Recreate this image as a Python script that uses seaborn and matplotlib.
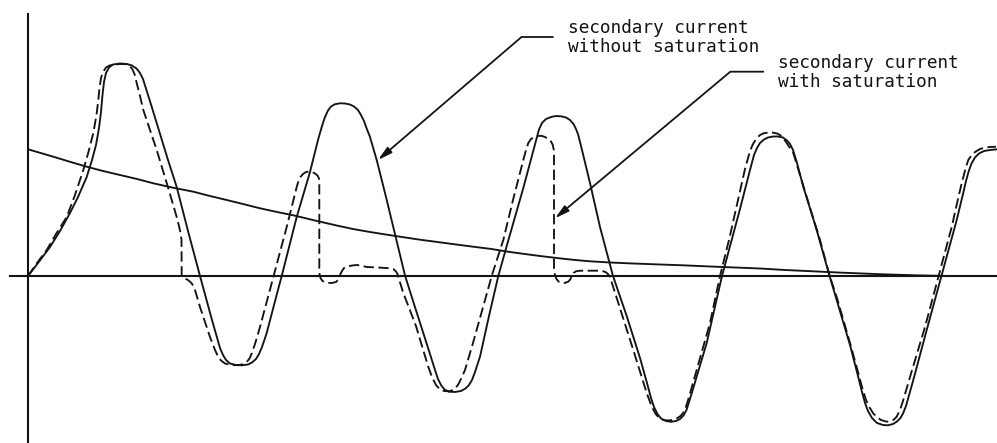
import numpy as np
import pandas as pd
import matplotlib
matplotlib.use("Agg")
import matplotlib.pyplot as plt
import seaborn as sns

# ---- data ----
# time in units of 0.1 ms, current in units of 0.01 p.u.
t_nosat = [0, 10, 22, 32, 42, 50, 58.7, 64, 68, 71, 73, 74.5, 76, 78, 81, 85, 92, 99, 104,
           108.5, 112, 115, 117.5, 120, 123.7, 132, 140, 148.7, 160, 172,
           184, 192, 195, 198, 202, 208, 214, 220, 224, 228, 231, 234, 238.7, 246, 253.7,
           268.7, 282, 290, 294, 297, 300, 303, 307, 312, 317, 322, 326, 330, 333, 336,
           338.5, 342, 348.7, 358, 367, 377,
           386, 395, 402, 407, 410, 413, 416.5, 421, 427, 433, 437.5, 441, 444, 447, 452,
           461, 470.3,
           478.7, 487, 495.3, 502, 506, 508.7, 511, 514, 518, 523, 528, 533, 538, 542,
           545.5, 548, 550.3, 554, 562, 572, 585,
           598.7, 612, 619, 623, 626, 629.5, 633, 638, 643, 648, 652, 655.5, 658.5, 661,
           663.7, 678.7, 694,
           712, 722, 726, 729, 732, 736, 740, 745, 750, 755, 759, 762, 765, 769, 775.3,
           788.7, 800.3, 808.7,
           822, 830, 834, 837, 840, 844, 849, 855, 860, 865, 869, 872.5, 875, 878, 885.3,
           898.7, 913.7, 928.7, 935, 938, 940.5, 943.5, 947, 951, 956, 962, 969]
i_nosat = [0, 13, 29, 45, 63, 79, 99, 116, 131, 148, 164, 181, 194, 203, 208.5, 211.5, 212.5,
           212, 210.5, 207.5, 203, 197, 189, 181, 169.3, 142, 116, 89, 45, 0,
           -44, -72, -79, -84, -87.5, -89, -89.3, -88.5, -86.5, -83, -78, -71, -57, -29, 0,
           59, 104, 136, 150, 159, 165.5, 169.5, 171.8, 172.7, 172.5, 171.5, 169.5, 166,
           161, 155, 148, 139, 116, 79, 42, 0.5,
           -28, -56, -78, -94, -103, -109, -113.5, -115.7, -116, -115, -112.5, -109, -104,
           -96, -80.7, -40, 0,
           30, 59, 88, 113, 128, 138, 146.5, 153, 157, 159, 160, 159.7, 158.5, 156, 152, 147,
           141, 126, 93, 49, 0,
           -40, -82, -107, -122, -131, -138, -142.5, -145, -145.8, -145, -143, -139.5,
           -134, -126, -117.3, -67, 0,
           67, 106, 121, 128, 133, 136.5, 138.5, 139.5, 139.5, 138.5, 135.5, 132, 126, 113,
           89.3, 46, 4.3, -24,
           -69, -100, -116, -127, -135, -142, -147, -149, -149.3, -148, -145.5, -142,
           -137.5, -130, -104, -54, 1, 56, 82, 95, 104, 112.5, 118.5, 122.5, 125, 126,
           126.7]

t_sat = [0, 9, 18.7, 28, 38.7, 47, 55.3, 60.5, 65.3, 68.5, 70.3, 71.5, 73, 75, 78, 82, 87,
         92, 97, 101, 104, 106.5, 108.7, 112, 115.3, 122, 128.7, 138.7, 148.7, 151, 152.5,
         153.5, 153.7, 156, 160, 163.7, 165.5, 167, 172, 182, 187, 190.3, 193, 197, 203,
         209, 214, 218.7, 221.5, 223.7, 227, 232, 245.3, 258.7, 268.7, 270.5, 272.5, 275,
         278, 281, 284, 287, 289.5, 291, 291.3, 291.3, 292.5, 294.5, 298, 303.7, 308,
         310.5, 312, 313.7, 316, 319, 324, 329, 334, 338.7, 350, 362, 365.5, 368, 369.5,
         370.3, 375.3, 388, 400, 404, 408, 411.5, 416, 421, 425, 428, 430.5, 433, 437,
         445, 464, 475.3, 485, 495.3, 498, 500.3, 503, 506.5, 510, 513.5, 517, 520.5,
         523, 524.8, 525.8, 526, 526, 527, 528.5, 530.5, 534, 537.5, 540.5, 542.5, 544,
         545.5, 548, 552, 568.7, 574, 577.5, 580, 582, 590.3, 605.3, 618.7, 622, 625, 628,
         631.5, 635.3, 640, 645, 649, 652.5, 655, 657, 661, 668.7, 682, 692, 701, 710,
         714, 717, 719.5, 722, 725, 728.5, 732, 736, 741, 745.3, 749, 752, 755, 758, 761,
         765.3, 778.7, 792, 802, 808.7, 822, 830, 834, 838, 841, 845.3, 849, 853, 858.7,
         862, 865.3, 868.5, 872, 875, 882, 897, 910.3, 923.7, 930, 933.5, 935.3, 938,
         940.3, 943, 947, 952, 957, 962, 968]
i_sat = [0, 13, 26, 42, 59, 81, 106, 124, 143, 161, 176, 188, 198, 204, 208.5, 210.7, 211.5,
         212, 212, 210.5, 207.5, 202, 193, 180, 166, 146, 126, 93, 59, 50, 43, 36, -0.7,
         -2, -4, -7.3, -10.5, -14, -31, -61, -74, -81, -84.5, -87.5, -89, -89.2, -88.5,
         -86, -82.5, -77.5, -68, -51, -1, 49, 89, 95, 99, 102, 104, 104.5, 104, 102.5,
         100.5, 97.5, 93, 3, -2, -5, -6.7, -7, -6, -3.5, 1, 4.5, 8, 9.5, 10.5, 11, 10.2,
         9, 8.5, 7.7, 6.8, 4.5, 2, -1, -17, -50, -90, -101, -109, -113, -115, -115.3,
         -114, -111.5, -108, -103, -94, -67, 1, 36, 76, 116, 126, 133, 137, 139, 140,
         140.2, 139, 137, 134.5, 131, 126, 121, 6, 1, -3, -5.5, -6.8, -6.8, -5.5, -3, 0.5,
         3, 4.7, 5.3, 5.3, 5, 4, 2, -1, -27, -74, -117, -126, -133, -138.5, -142, -144,
         -144.5, -144, -142.3, -140, -137, -134, -121, -94, -47, 0, 36, 76, 94, 107, 116,
         125, 132, 137.5, 141, 142.8, 143.5, 143.3, 142.5, 141, 138, 134, 129.5, 123, 79,
         36, -1, -21, -67, -96, -111, -124, -130.5, -137.5, -141, -144, -145.7, -145.3,
         -144, -141, -134, -125, -101, -51, -1, 49, 77, 92, 99, 109, 116, 120, 124, 127,
         128.5, 129, 129.3]

t_dc = [0, 12, 25.3, 42, 58.7, 75, 92, 109, 125.3, 145, 165.3, 182, 198.7, 215, 232, 249,
        265.3, 287, 308.7, 325, 342, 359, 375.3, 392, 417, 442, 462, 482, 495.3, 512,
        528.7, 547, 562, 582, 605, 632, 655, 682, 707, 732, 757, 778.7, 812, 852, 887,
        922, 969]
i_dc = [126.7, 123.2, 119.3, 114.2, 109.3, 105, 101, 97, 92.7, 88.3, 84.3, 80, 76, 72,
        67.7, 64, 60.7, 55.5, 50.5, 47, 44, 41.3, 38.8, 36.3, 33, 29.7, 27.2, 24, 22.2,
        20, 18, 16, 14.7, 13.5, 12.5, 11.5, 10.7, 9.5, 8.5, 7.5, 6, 5, 3.4, 1.8, 0.7, 0, 0]

label_nosat = "secondary current\nwithout saturation"
label_sat = "secondary current\nwith saturation"

# ---- figure ----
sns.set_theme(style="white")
plt.rcParams["font.family"] = ["DejaVu Sans Mono", "DejaVu Sans"]

W, H = 997, 443
fig = plt.figure(figsize=(W / 100, H / 100), dpi=100)
fig.patch.set_facecolor("white")
ax = fig.add_axes([0, 0, 1, 1])
ax.set_facecolor("white")

ink = "#141414"
lw = 1.35

df_nosat = pd.DataFrame({"t": t_nosat, "i": i_nosat})
df_sat = pd.DataFrame({"t": t_sat, "i": i_sat})
df_dc = pd.DataFrame({"t": t_dc, "i": i_dc})

sns.lineplot(data=df_dc, x="t", y="i", ax=ax, sort=False, estimator=None,
             color=ink, lw=lw)
sns.lineplot(data=df_nosat, x="t", y="i", ax=ax, sort=False, estimator=None,
             color=ink, lw=lw)
sns.lineplot(data=df_sat, x="t", y="i", ax=ax, sort=False, estimator=None,
             color=ink, lw=lw, linestyle=(0, (5.5, 2.4)))

ax.set_xlim(-28, 969)
ax.set_ylim(-167, 276)

# axes drawn as crossing lines through the origin
for side in ["top", "right"]:
    ax.spines[side].set_visible(False)
ax.spines["left"].set_position(("data", 0))
ax.spines["bottom"].set_position(("data", 0))
ax.spines["left"].set_bounds(-167, 262)
ax.spines["bottom"].set_bounds(-18, 969)
for side in ["left", "bottom"]:
    ax.spines[side].set_color(ink)
    ax.spines[side].set_linewidth(1.5)
ax.set_xticks([])
ax.set_yticks([])
ax.set_xlabel("")
ax.set_ylabel("")

# labels with leader lines
fs = 12.8
ax.text(540, 257, label_nosat, fontsize=fs, va="top", ha="left",
        color=ink, linespacing=1.05)
ax.text(750, 222, label_sat, fontsize=fs, va="top", ha="left",
        color=ink, linespacing=1.05)

arrow_kw = dict(arrowstyle="-|>,head_length=0.7,head_width=0.18", color=ink,
                lw=1.3, shrinkA=0, shrinkB=0, mutation_scale=12)
ax.annotate("", xy=(350, 116), xytext=(525, 239),
            arrowprops=dict(connectionstyle="angle,angleA=180,angleB=40.6,rad=0", **arrow_kw))
ax.annotate("", xy=(527, 57.7), xytext=(735.3, 204.3),
            arrowprops=dict(connectionstyle="angle,angleA=180,angleB=39.9,rad=0", **arrow_kw))

fig.savefig("out.png", dpi=100, facecolor="white")
